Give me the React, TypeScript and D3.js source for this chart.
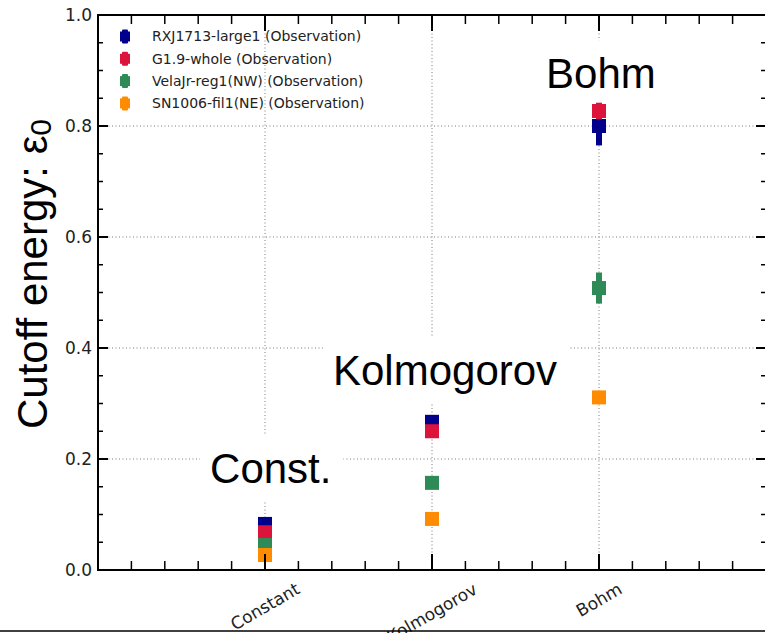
import React from "react";
import * as d3 from "d3";

const categories = ["Constant", "Kolmogorov", "Bohm"];
const seriesNames = [
  "RXJ1713-large1 (Observation)",
  "G1.9-whole (Observation)",
  "VelaJr-reg1(NW) (Observation)",
  "SN1006-fil1(NE) (Observation)",
];
const seriesColors = ["#00008b", "#dc143c", "#2e8b57", "#ff8c00"];
const rxjValues = [0.083, 0.267, 0.8];
const rxjErrors = [0.005, 0.005, 0.035];
const g19Values = [0.068, 0.25, 0.827];
const g19Errors = [0.005, 0.005, 0.015];
const velaValues = [0.045, 0.157, 0.508];
const velaErrors = [0.005, 0.005, 0.028];
const snValues = [0.027, 0.092, 0.311];
const snErrors = [0.004, 0.004, 0.006];
const yTicks = [0, 0.2, 0.4, 0.6, 0.8, 1.0];
const annotationTexts = ["Const.", "Kolmogorov", "Bohm"];
const annotationX = [0.671, 1.407, 2.683];
const annotationY = [0.157, 0.333, 0.868];

const W = 765;
const H = 633;
const x = d3.scaleLinear().domain([0, 4]).range([98, 766]);
const y = d3.scaleLinear().domain([0, 1]).range([570, 15]);

// Arial-like widths (em)
const arialW: Record<string, number> = {
  C: 0.722, o: 0.556, n: 0.556, s: 0.5, t: 0.278, ".": 0.278, K: 0.667, l: 0.222,
  m: 0.833, g: 0.556, r: 0.333, v: 0.5, B: 0.667, h: 0.556,
};
const textWidth = (s: string, fs: number) =>
  s.split("").reduce((a, c) => a + (arialW[c] ?? 0.556), 0) * fs;
const dejaW: Record<string, number> = {
  C: 0.698, o: 0.612, n: 0.634, s: 0.521, t: 0.392, a: 0.613, K: 0.656, l: 0.278,
  m: 0.974, g: 0.635, r: 0.411, v: 0.592, B: 0.686, h: 0.634,
};
const dejaWidth = (s: string, fs: number) =>
  s.split("").reduce((a, c) => a + (dejaW[c] ?? 0.6), 0) * fs;

export default function App() {
  const series = [
    { v: rxjValues, e: rxjErrors },
    { v: g19Values, e: g19Errors },
    { v: velaValues, e: velaErrors },
    { v: snValues, e: snErrors },
  ];
  const majorX = d3.range(0, 5);
  const minorX = d3.range(0, 4.0001, 0.2).filter((t) => Math.abs(t - Math.round(t)) > 1e-6);
  const minorY = d3.range(0, 1.0001, 0.05).filter((t) => Math.abs(t * 5 - Math.round(t * 5)) > 1e-6);
  const grid = "#7a7a7a";
  const ms = 14;
  const annFs = 42;
  const tickFs = 17;
  const x0 = x(0), x1 = x(4), y0 = y(0), y1 = y(1);
  return (
    <svg width={W} height={H} style={{ position: "absolute", left: 0, top: 0, background: "#fff" }}>
      <rect x={0} y={0} width={W} height={H} fill="#fff" />
      {/* grid */}
      {[1, 2, 3].map((t) => (
        <line key={"gx" + t} x1={x(t)} x2={x(t)} y1={y0} y2={y1} stroke={grid} strokeWidth={1} strokeDasharray="1,2.5" />
      ))}
      {[0.2, 0.4, 0.6, 0.8].map((t) => (
        <line key={"gy" + t} x1={x0} x2={x1} y1={y(t)} y2={y(t)} stroke={grid} strokeWidth={1} strokeDasharray="1,2.5" />
      ))}
      {/* annotations with white boxes */}
      {annotationTexts.map((s, i) => {
        const lx = x(annotationX[i]);
        const by = y(annotationY[i]);
        const w = textWidth(s, annFs);
        return (
          <g key={"ann" + i}>
            <rect x={lx - 10} y={by - 48} width={w + 22} height={66} fill="#fff" />
            <text x={lx} y={by} fontSize={annFs} fontFamily="'Liberation Sans', Arial, sans-serif" fill="#000">
              {s}
            </text>
          </g>
        );
      })}
      {/* data */}
      {categories.map((c, ci) =>
        series.map((s, si) => {
          const cx = x(ci + 1);
          const cy = y(s.v[ci]);
          const col = seriesColors[si];
          return (
            <g key={c + si}>
              <line x1={cx} x2={cx} y1={y(s.v[ci] - s.e[ci])} y2={y(s.v[ci] + s.e[ci])} stroke={col} strokeWidth={6} />
              <rect x={cx - ms / 2} y={cy - ms / 2} width={ms} height={ms} fill={col} />
            </g>
          );
        })
      )}
      {/* spines */}
      <rect x={x0} y={y1} width={x1 - x0} height={y0 - y1} fill="none" stroke="#000" strokeWidth={2} />
      {/* x ticks bottom & top */}
      {majorX.map((t) => (
        <g key={"mx" + t}>
          <line x1={x(t)} x2={x(t)} y1={y0} y2={y0 - 16} stroke="#000" strokeWidth={2} />
          <line x1={x(t)} x2={x(t)} y1={y1} y2={y1 + 16} stroke="#000" strokeWidth={2} />
        </g>
      ))}
      {minorX.map((t) => (
        <g key={"nx" + t}>
          <line x1={x(t)} x2={x(t)} y1={y0} y2={y0 - 9} stroke="#000" strokeWidth={1.5} />
          <line x1={x(t)} x2={x(t)} y1={y1} y2={y1 + 9} stroke="#000" strokeWidth={1.5} />
        </g>
      ))}
      {/* y ticks left & right */}
      {yTicks.map((t) => (
        <g key={"my" + t}>
          <line x1={x0} x2={x0 + 10} y1={y(t)} y2={y(t)} stroke="#000" strokeWidth={2} />
          <line x1={x1} x2={x1 - 10} y1={y(t)} y2={y(t)} stroke="#000" strokeWidth={2} />
          <text x={92} y={y(t)} dy="0.35em" textAnchor="end" fontSize={tickFs} fontFamily="'DejaVu Sans', sans-serif" fill="#222">
            {t.toFixed(1)}
          </text>
        </g>
      ))}
      {minorY.map((t) => (
        <g key={"ny" + t}>
          <line x1={x0} x2={x0 + 5} y1={y(t)} y2={y(t)} stroke="#000" strokeWidth={1.5} />
          <line x1={x1} x2={x1 - 5} y1={y(t)} y2={y(t)} stroke="#000" strokeWidth={1.5} />
        </g>
      ))}
      {/* x tick labels */}
      {categories.map((c, ci) => {
        const w = dejaWidth(c, tickFs);
        const cy = 582 + (w * 0.5 + 0.73 * tickFs * 0.866) / 2;
        const cx = x(ci + 1);
        return (
          <text key={"xl" + c} x={0} y={0} transform={`translate(${cx},${cy}) rotate(-30)`} textAnchor="middle" dy="0.35em"
            fontSize={tickFs} fontFamily="'DejaVu Sans', sans-serif" fill="#222">
            {c}
          </text>
        );
      })}
      {/* y label */}
      <text transform={`translate(47,274) rotate(-90)`} textAnchor="middle" fontSize={42} fontFamily="'Liberation Sans', Arial, sans-serif" fill="#000">
        Cutoff energy: ε<tspan fontSize={30} dy={4}>0</tspan>
      </text>
      {/* legend */}
      {seriesNames.map((n, i) => {
        const ly = 36.5 + i * 22.3;
        return (
          <g key={"lg" + i}>
            <rect x={120} y={ly - 5} width={10} height={10} fill={seriesColors[i]} />
            <rect x={122} y={ly - 7} width={6} height={14} rx={1} fill={seriesColors[i]} />
            <text x={152} y={ly} dy="0.35em" fontSize={14} fontFamily="'DejaVu Sans', sans-serif" fill="#222">
              {n}
            </text>
          </g>
        );
      })}
      <line x1={0} x2={W} y1={631} y2={631} stroke="#000" strokeWidth={1.5} />
    </svg>
  );
}
